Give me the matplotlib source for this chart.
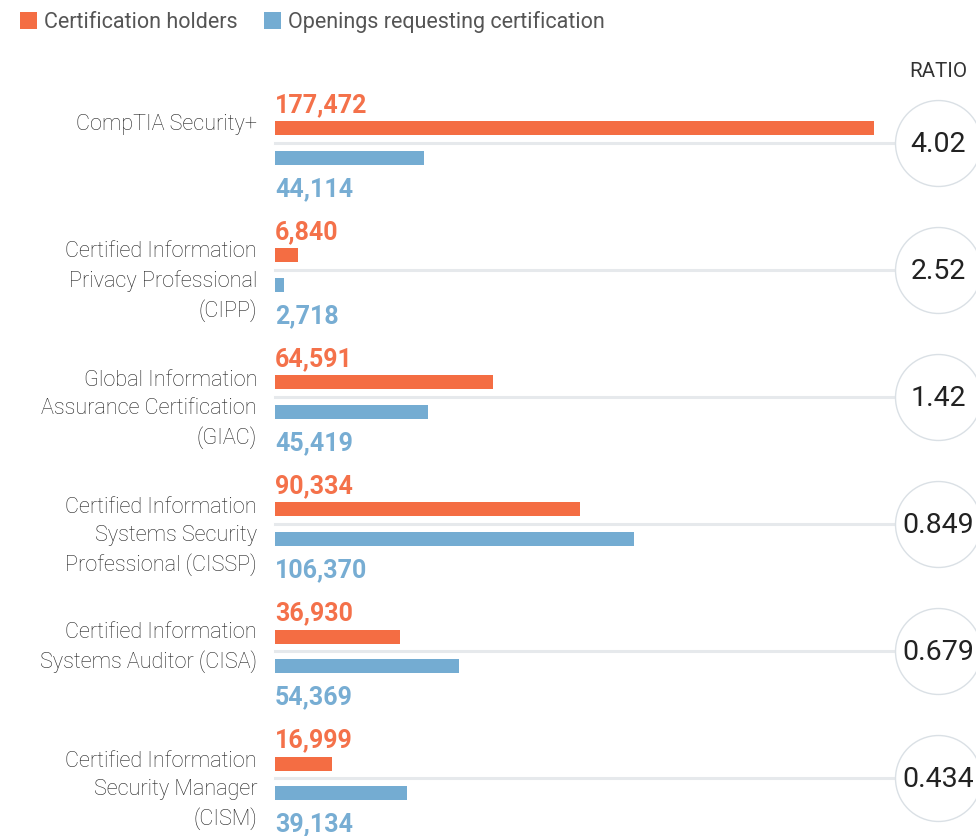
import matplotlib
matplotlib.use('Agg')

import matplotlib.pyplot as plt
import numpy as np

# data
categories = [
    'CompTIA Security+',
    'Certified Information\nPrivacy Professional\n(CIPP)',
    'Global Information\nAssurance Certification\n(GIAC)',
    'Certified Information\nSystems Security\nProfessional (CISSP)',
    'Certified Information\nSystems Auditor (CISA)',
    'Certified Information\nSecurity Manager\n(CISM)',
]
holders = [177472, 6840, 64591, 90334, 36930, 16999]
openings = [44114, 2718, 45419, 106370, 54369, 39134]
ratios = ['4.02', '2.52', '1.42', '0.849', '0.679', '0.434']

ORANGE = '#f46d43'
BLUE = '#74acd2'
ORANGE_TXT = '#f4714a'
BLUE_TXT = '#77add3'
GRID = '#e6e9ec'

W, H = 976, 836
plt.rcParams['font.family'] = ['Roboto', 'DejaVu Sans']

fig = plt.figure(figsize=(W / 100, H / 100), dpi=100)
ax = fig.add_axes([0, 0, 1, 1])
ax.axis('off')

# pixel layout helpers: bars start at x=275px, longest bar ends at 874px
x0_px, xmax_px = 275, 874
ppu = (xmax_px - x0_px) / max(holders)
ax.set_xlim(-x0_px / ppu, (W - x0_px) / ppu)
step = 127.0          # px between groups
top_px = 143.0        # first group's centre line
ax.set_ylim((H - top_px) / step, -top_px / step)

def px(v):
    return v / step

y = np.arange(len(categories))
bar_h = px(14)

ax.barh(y - px(14.5), holders, height=bar_h, color=ORANGE, label='Certification holders', zorder=3)
ax.barh(y + px(15), openings, height=bar_h, color=BLUE, label='Openings requesting certification', zorder=3)

trans = ax.get_yaxis_transform()
line_x0 = x0_px / W
circle_x = 938 / W
for i in y:
    ax.axhline(i, xmin=line_x0, xmax=circle_x, color=GRID, lw=2.2, zorder=1)

ax.scatter([circle_x] * len(y), y, s=3830, facecolor='white', edgecolor='#dae0e5',
           linewidth=1.0, transform=trans, zorder=4, clip_on=False)

line_gap = 30  # px between label lines
for i, (cat, h, o, r) in enumerate(zip(categories, holders, openings, ratios)):
    n = cat.count('\n')
    # baseline alignment uses the last line, so shift down by the extra lines
    ax.text(257 / W, i - px(13) + px(line_gap * n), cat, transform=trans, ha='right',
            va='baseline', fontsize=15.6, fontweight='light', color='#222222',
            linespacing=1.44)
    ax.text(0, i - px(31), f'{h:,}', ha='left', va='baseline', fontsize=18,
            fontweight='bold', color=ORANGE_TXT)
    ax.text(0, i + px(53), f'{o:,}', ha='left', va='baseline', fontsize=18,
            fontweight='bold', color=BLUE_TXT)
    ax.text(circle_x, i + px(9), r, transform=trans, ha='center', va='baseline',
            fontsize=20.5, color='#222222', zorder=5)

ax.text(circle_x, px(77 - top_px), 'RATIO', transform=trans, ha='center', va='baseline',
        fontsize=14.8, color='#333333')

leg = ax.legend(loc='upper left', bbox_to_anchor=(20 / W, 1 - 11 / H), ncol=2, frameon=False,
                fontsize=15.5, handlelength=0.79, handleheight=0.79, handletextpad=0.34,
                columnspacing=1.2, borderpad=0, borderaxespad=0)
for t in leg.get_texts():
    t.set_color('#555555')

plt.savefig('out.png', dpi=100)
